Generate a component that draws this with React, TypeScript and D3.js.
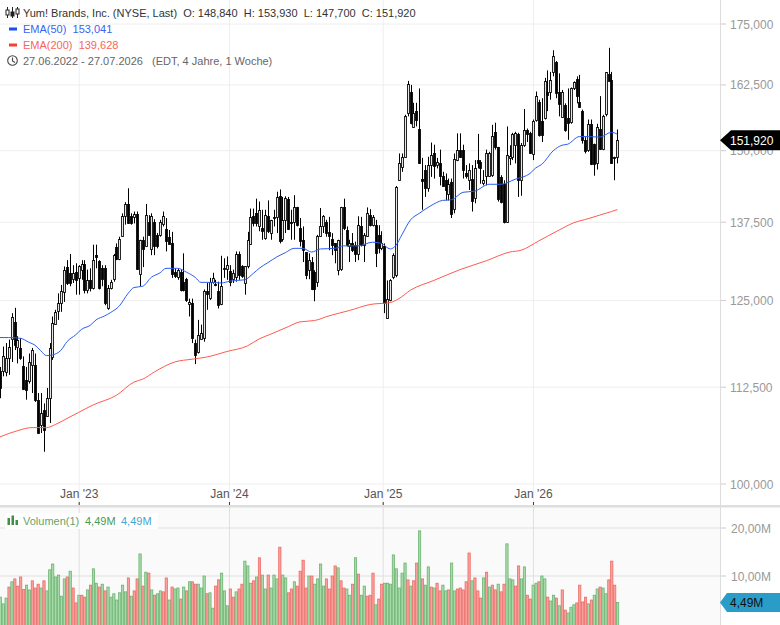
import * as d3 from "d3";

const width = 780;
const height = 625;

// weekly candles
const opens = [
  114.7,114.7,114.7,116.6,119.2,121.8,118.2,118.0,115.4,
  113.5,113.3,115.6,115.6,110.8,107.4,109.4,108.6,111.0,116.8,
  121.5,123.5,124.7,126.4,130.2,129.2,128.2,129.5,128.5,129.8,
  130.7,126.7,128.2,126.9,132.1,131.1,130.0,130.0,123.8,126.9,
  128.3,133.5,131.6,135.2,138.6,140.6,138.6,138.3,138.8,129.2,
  134.6,133.5,137.6,133.2,137.6,135.4,135.4,137.1,136.3,135.1,
  134.0,129.5,128.7,129.5,127.9,128.3,124.5,124.6,118.7,117.5,
  119.2,119.4,126.4,125.4,127.9,127.6,126.4,124.5,129.8,129.8,
  129.6,128.3,128.7,132.3,130.3,127.7,130.3,133.9,138.5,139.0,136.8,
  136.5,134.8,138.5,135.8,138.4,138.4,141.9,134.6,137.9,141.5,
  137.6,137.4,140.0,136.5,134.5,132.6,129.7,131.0,129.4,127.9,
  135.2,136.8,137.6,135.9,134.7,134.0,129.7,129.8,140.0,136.2,
  133.5,134.0,133.7,132.4,136.8,133.7,135.2,138.7,137.0,137.0,
  135.4,133.2,133.6,122.5,125.1,128.6,128.9,144.7,147.1,148.9,
  157.0,161.2,154.4,157.5,154.0,145.0,146.5,143.3,147.4,149.5,
  147.4,147.7,145.5,144.8,142.4,144.4,139.8,148.3,150.2,150.2,
  145.9,144.7,145.0,141.5,148.3,148.0,144.1,145.3,145.4,145.6,
  153.4,150.7,145.3,144.1,137.6,148.6,148.9,151.0,153.1,144.7,
  151.0,153.8,153.2,149.4,155.6,159.2,155.6,156.1,161.2,161.2,
  165.0,167.1,161.2,156.4,158.6,156.1,155.2,161.8,163.6,159.2,
  157.5,151.9,150.1,155.0,151.3,147.7,154.1,150.4,156.7,164.7,
  163.5,148.9,148.84,
];
const highs = [
  115.3,118.2,118.7,119.2,123.1,123.9,119.7,119.4,116.8,
  115.3,117.2,118.0,117.2,111.7,111.7,110.3,112.4,118.7,122.6,
  123.6,126.1,127.4,130.3,131.3,132.3,130.5,130.8,130.5,131.3,
  131.3,129.8,130.0,133.8,133.8,131.3,130.5,130.5,127.4,128.2,
  132.3,134.0,135.1,139.0,140.9,143.3,139.0,139.3,139.3,134.6,
  135.1,140.6,138.7,139.0,138.0,135.7,137.9,139.3,138.2,136.2,
  135.9,130.0,130.0,129.8,132.4,128.5,125.3,125.3,119.2,122.1,
  121.4,126.7,127.7,128.5,129.3,128.2,127.9,132.0,131.6,131.9,
  130.5,129.8,132.7,132.7,130.5,130.3,135.9,139.8,139.8,141.5,141.0,
  139.6,139.6,141.2,137.9,139.6,142.7,143.1,141.8,141.9,141.8,
  139.6,142.1,140.1,138.2,136.8,132.6,132.4,131.8,129.7,135.4,
  139.9,138.7,137.9,138.4,135.7,134.0,134.6,140.1,141.5,136.8,
  134.6,135.7,134.3,138.5,138.4,135.7,140.0,139.7,138.7,137.9,
  137.0,136.0,134.0,128.1,128.3,132.4,143.7,149.5,149.5,156.7,
  163.3,162.5,159.0,159.0,161.8,148.7,147.4,148.9,151.5,151.1,
  148.7,150.2,146.2,145.9,145.0,145.0,149.5,153.2,153.2,151.1,
  147.4,147.7,147.4,148.3,153.1,148.3,146.5,150.2,149.8,154.8,
  155.2,150.7,145.6,144.7,154.5,151.0,153.3,153.5,153.3,151.4,
  157.8,154.1,153.5,155.8,161.2,159.6,159.9,163.9,165.4,165.1,
  169.5,167.3,164.8,161.5,158.9,161.8,162.0,163.2,164.2,164.5,
  157.7,152.5,155.8,155.8,151.3,155.0,160.3,156.7,165.0,170.0,
  165.1,148.9,153.93,
];
const lows = [
  111.0,114.0,114.0,114.2,116.0,117.7,115.8,116.3,112.1,
  110.8,113.0,111.7,110.5,106.4,106.4,104.0,108.6,107.7,116.3,
  121.4,122.1,123.3,124.8,127.4,127.2,127.7,125.9,125.9,128.2,
  126.1,126.1,126.4,126.7,130.0,126.7,127.2,124.3,123.6,126.7,
  127.9,131.3,131.3,135.1,137.1,137.3,137.1,137.3,129.8,127.2,
  130.2,133.5,135.4,132.1,132.1,133.2,135.1,136.8,132.7,134.0,
  128.5,128.5,128.2,126.4,126.4,124.8,122.6,118.7,115.7,117.2,
  119.2,118.9,123.6,125.1,127.6,127.2,123.8,124.3,128.5,128.2,
  127.2,127.7,127.9,128.2,128.5,125.9,130.0,133.8,136.8,136.8,136.0,
  134.6,134.6,135.7,134.6,136.8,135.7,134.0,134.3,135.7,136.2,
  134.6,134.6,136.8,133.5,131.0,128.3,128.3,126.6,124.9,127.1,
  135.2,135.7,135.1,132.9,132.1,130.8,128.9,129.6,136.2,133.5,
  131.0,132.6,131.0,131.3,133.5,131.0,135.1,136.8,136.8,130.2,
  132.4,132.9,123.1,122.3,124.9,128.3,128.6,144.7,146.2,148.7,
  156.4,154.9,154.2,154.5,147.6,139.6,141.8,142.7,145.3,145.0,
  146.8,143.8,143.8,141.2,141.2,138.2,139.0,148.1,148.7,145.0,
  145.0,143.0,139.3,140.7,146.8,144.1,143.8,143.8,145.3,145.3,
  150.2,141.0,140.7,137.3,137.4,147.4,148.3,147.7,141.8,142.0,
  150.7,151.6,149.4,148.3,155.4,152.6,151.6,155.8,157.4,159.6,
  164.2,159.9,156.4,156.1,153.5,152.0,155.0,161.5,158.9,158.0,
  151.3,149.5,149.8,147.4,145.5,146.6,150.2,150.1,156.4,163.2,
  147.7,144.7,147.7,
];
const closes = [
  112.4,116.8,116.6,118.2,122.5,118.4,119.2,116.6,112.2,
  112.1,116.0,117.7,110.8,106.4,109.0,106.8,111.0,118.0,121.7,
  123.3,124.7,126.5,129.8,127.7,127.6,129.2,128.2,130.4,130.7,
  126.7,128.2,126.9,131.3,131.8,126.9,128.2,124.6,126.9,127.9,
  132.1,131.6,134.8,138.5,140.6,137.4,137.4,138.8,129.8,134.6,
  133.2,138.7,135.4,138.6,133.6,133.6,137.6,138.5,134.3,134.0,
  129.0,128.8,129.8,126.7,126.7,125.0,124.8,119.4,117.0,119.9,
  120.1,126.4,125.9,127.9,128.5,127.4,124.3,127.2,130.0,130.5,
  127.9,129.2,132.3,129.0,128.7,130.3,134.5,138.3,137.4,137.4,139.5,
  136.0,138.7,136.0,137.9,138.3,141.8,134.3,137.8,141.7,136.5,
  137.5,140.0,137.0,134.3,132.9,128.9,131.3,126.8,126.8,135.2,
  136.8,138.5,135.7,135.2,133.7,132.9,134.6,140.0,136.5,133.7,
  134.0,132.9,132.3,137.1,133.7,135.4,139.1,137.0,138.4,132.4,
  133.2,134.0,124.6,125.3,128.2,132.1,143.5,147.8,148.9,156.5,
  162.7,155.2,157.0,155.7,147.8,144.7,143.3,147.4,149.2,147.2,
  148.0,145.3,143.8,143.1,144.1,138.9,148.5,150.2,148.9,146.6,
  145.3,146.5,141.2,146.8,147.7,147.0,144.7,149.5,149.5,152.7,
  150.7,141.4,140.9,137.6,149.2,149.0,153.1,153.2,144.7,151.0,
  153.8,153.1,149.6,155.6,160.3,152.9,152.9,163.2,160.6,163.5,
  168.3,160.9,158.9,161.2,153.8,155.2,161.8,163.0,160.2,158.3,
  152.0,149.8,155.0,147.7,147.7,154.3,150.4,156.5,165.0,163.4,
  147.8,148.8,151.92,
];

// volume in millions, and whether the bar is green (g) or red (r)
const volumes = [
  5.6,4.2,5.4,7.7,8.8,9.4,7.9,9.8,7.2,8.1,
  7.1,9.0,7.5,8.3,7.5,9.0,6.9,11.3,12.5,9.8,
  10.2,5.8,9.4,9.8,11.0,7.5,4.4,6.0,6.0,5.6,
  7.1,8.1,11.5,8.5,7.7,8.3,6.9,7.7,5.6,6.3,
  5.0,6.5,8.1,6.7,9.6,5.8,6.9,9.4,14.6,7.9,
  10.8,10.6,7.1,6.0,6.3,6.9,6.7,9.6,5.0,7.7,
  7.3,7.5,5.2,7.7,6.9,8.8,8.8,8.3,8.3,7.5,
  10.0,6.3,6.5,3.3,7.9,9.2,10.6,6.9,3.8,7.3,
  5.6,6.7,7.3,8.3,13.1,12.1,8.5,9.0,9.8,13.8,
  10.2,7.3,10.2,7.5,10.2,9.4,16.0,10.2,9.6,6.5,
  7.3,8.8,7.9,11.0,13.3,7.5,10.0,10.0,8.3,9.4,
  12.5,7.9,9.4,7.3,10.0,12.1,11.7,9.0,7.5,7.3,
  6.0,8.3,13.8,10.4,6.0,7.9,5.8,6.0,10.6,4.0,
  5.2,8.3,8.5,8.5,
  8.3,14.4,11.5,7.5,10.6,12.7,9.2,7.9,9.0,12.7,
  19.4,9.4,8.1,11.9,7.7,7.5,8.5,6.9,8.1,6.9,
  7.1,12.7,6.9,7.3,7.5,7.1,8.8,14.8,9.0,9.6,
  6.9,5.4,9.6,10.8,7.7,8.1,7.1,8.3,6.7,8.3,
  16.7,9.4,9.2,7.9,12.1,9.4,11.9,6.0,5.2,8.1,
  8.5,8.8,10.0,9.4,5.6,4.8,6.0,5.4,3.8,7.1,
  2.9,2.3,3.5,4.0,4.4,8.1,4.6,5.6,4.2,5.0,
  6.0,7.3,7.7,7.5,6.3,9.2,13.1,8.1,4.49,
];
const volumeDirs = (
  "gggrgrrrrg" + "grrrgrgggg" + "gggrgrrgrr" + "grggrgrggg" + "ggggrgrrgr" +
  "grgrggrrgr" + "ggrgrgrrgg" + "grggrrgggr" + "rgrrgggrgr" + "ggrgggrggr" +
  "rgrrrrgrgg" + "ggrrrrgrrg" + "grgrggrrrg" + "rrgg" +
  "ggggggrgrr" + "grggrgrrgg" + "rggrrrrrgr" + "rrgrgrrgrr" + "gggrrggrrg" +
  "grggrggrgr" + "rgggrrrrgr" + "ggrggrrrg"
).split("");

// moving averages, sampled along the line: week number + value
const ema50Weeks = [
  0,3,7,10,12,14,16,18,21,23,26,28,31,33,36,38,41,44,46,49,52,55,57,61,64,67,69,73,76,79,84,87,
  89,92,95,98,101,104,107,110,115,118,123,128,131,134,136,138,141,144,148,152,155,159,163,168,
  172,177,182,184,186,190,193,195,199,202,206,210,212,
];
const ema50Values = [
  119.5,119.5,119.4,118.8,118.4,117.6,116.9,117.0,117.7,118.9,119.9,120.7,121.3,122.1,122.7,123.2,
  124.2,126.1,127.0,127.2,128.6,129.3,130.0,130.0,129.4,128.6,127.8,127.8,127.7,128.0,128.2,129.2,
  130.0,130.9,131.8,132.5,133.2,133.2,132.6,133.1,133.2,133.6,133.6,134.2,134.0,133.1,133.7,135.4,
  137.9,139.0,140.3,141.2,141.3,142.6,142.8,144.0,
  144.0,144.9,145.9,146.9,147.5,150.0,151.0,151.2,152.6,152.6,152.5,153.4,153.04,
];
const ema200Weeks = [
  0,6,11,16,19,23,27,32,40,46,49,53,60,66,71,78,85,89,93,99,103,108,113,120,127,134,137,141,149,158,
  167,175,179,185,192,197,202,206,210,212,
];
const ema200Values = [
  105.9,106.7,107.1,107.1,107.5,108.3,109.1,110.1,111.4,113.2,113.6,114.6,116.0,116.4,116.7,117.5,
  118.3,119.3,120.0,121.1,121.8,122.0,122.7,123.5,124.4,124.7,125.3,126.6,128.1,129.8,
  131.2,132.6,132.9,134.4,136.2,137.4,138.1,138.7,139.3,139.63,
];

const priceTicks = [100, 112.5, 125, 137.5, 150, 162.5, 175];
const volumeTicks = [10, 20];
const timeLabels = ["Jan '23", "Jan '24", "Jan '25", "Jan '26"];
const timeWeeks = [27.2, 78.8, 131.6, 183.2];

const lastPrice = 151.92;
const lastVolume = 4.49;

const font = "'Liberation Sans', Arial, sans-serif";
const fmtPrice = (v: number) => v.toFixed(3).replace(".", ",");
const fmtVol = (v: number) => v.toFixed(2).replace(".", ",") + "M";

export default function App() {
  const x = d3.scaleLinear().domain([0, 212]).range([0, 617.3]);
  const y = d3.scaleLog().domain([100, 175]).range([484, 24]);
  const yVol = d3.scaleLinear().domain([0, 20]).range([624, 528]);

  const ema50Path =
    d3
      .line<number>()
      .curve(d3.curveMonotoneX)
      .x((d) => x(d))
      .y((_, i) => y(ema50Values[i]))(ema50Weeks) ?? "";
  const ema200Path =
    d3
      .line<number>()
      .curve(d3.curveMonotoneX)
      .x((d) => x(d))
      .y((_, i) => y(ema200Values[i]))(ema200Weeks) ?? "";

  const priceY = y(lastPrice);
  const volY = yVol(lastVolume);

  return (
    <svg
      width={width}
      height={height}
      style={{ position: "absolute", left: 0, top: 0, display: "block", background: "#fff" }}
      fontFamily={font}
    >
      {/* volume pane background */}
      <rect x={0} y={507} width={720} height={118} fill="#fafafa" />

      {/* price grid */}
      {priceTicks.map((t) => (
        <line key={t} x1={0} x2={720} y1={y(t)} y2={y(t)} stroke="#eeeeee" />
      ))}
      {timeWeeks.map((w) => (
        <line key={w} x1={x(w)} x2={x(w)} y1={0} y2={505} stroke="#eeeeee" />
      ))}

      {/* volume grid */}
      {volumeTicks.map((t) => (
        <line key={t} x1={0} x2={720} y1={yVol(t)} y2={yVol(t)} stroke="#e0e0e0" />
      ))}
      {timeWeeks.map((w) => (
        <line key={w} x1={x(w)} x2={x(w)} y1={507} y2={625} stroke="#e0e0e0" />
      ))}

      {/* volume bars */}
      {volumes.map((v, i) => {
        const up = volumeDirs[i] === "g";
        return (
          <rect
            key={i}
            x={x(i) - 0.85}
            y={yVol(v)}
            width={2.3}
            height={Math.max(0, 626 - yVol(v))}
            fill={up ? "#a6dba8" : "#fa9f9b"}
            stroke={up ? "#62ad69" : "#ea645e"}
            strokeWidth={0.7}
          />
        );
      })}

      {/* candles */}
      {closes.map((c, i) => {
        const cx = Math.round(x(i));
        const top = y(Math.max(opens[i], c));
        const bottom = y(Math.min(opens[i], c));
        const up = c >= opens[i];
        return (
          <g key={i}>
            <line
              x1={cx + 0.5}
              x2={cx + 0.5}
              y1={y(highs[i])}
              y2={y(lows[i])}
              stroke="#000"
            />
            <rect
              x={cx - 0.4}
              y={Math.round(top) + 0.5}
              width={1.8}
              height={Math.max(1, Math.round(bottom - top))}
              fill={up ? "#fff" : "#000"}
              stroke="#000"
              strokeWidth={0.9}
            />
          </g>
        );
      })}

      {/* EMAs */}
      <path d={ema200Path} fill="none" stroke="#ff5a4f" strokeWidth={1} />
      <path d={ema50Path} fill="none" stroke="#2a5cf0" strokeWidth={1} />

      {/* pane separator and axis lines */}
      <rect x={0} y={505} width={780} height={2.5} fill="#dedede" />
      <line x1={720.5} x2={720.5} y1={0} y2={625} stroke="#dddddd" />

      {/* time axis */}
      {timeWeeks.map((w, i) => (
        <g key={w}>
          <line x1={x(w)} x2={x(w)} y1={502} y2={505} stroke="#333" />
          <text x={x(w)} y={498} textAnchor="middle" fontSize={12} fill="#555">
            {timeLabels[i]}
          </text>
        </g>
      ))}

      {/* price axis */}
      {priceTicks.map((t) => (
        <g key={t}>
          <line x1={721} x2={726} y1={y(t)} y2={y(t)} stroke="#cccccc" />
          <text x={730} y={y(t) + 4.5} fontSize={12} fill="#999">
            {fmtPrice(t)}
          </text>
        </g>
      ))}

      {/* volume axis */}
      {volumeTicks.map((t) => (
        <g key={t}>
          <line x1={721} x2={726} y1={yVol(t)} y2={yVol(t)} stroke="#cccccc" />
          <text x={731} y={yVol(t) + 4.5} fontSize={12} fill="#999">
            {fmtVol(t)}
          </text>
        </g>
      ))}

      {/* last price tag */}
      <path
        d={`M720,${priceY} L731,${priceY - 10} H780 V${priceY + 10} H731 Z`}
        fill="#000"
      />
      <text x={730} y={priceY + 4.5} fontSize={12} fill="#fff">
        {fmtPrice(lastPrice)}
      </text>

      {/* last volume tag */}
      <path
        d={`M720,${volY} L727,${volY - 9.5} H780 V${volY + 9.5} H727 Z`}
        fill="#2a9cc8"
      />
      <text x={730} y={volY + 4.5} fontSize={12} fill="#111">
        {fmtVol(lastVolume)}
      </text>

      {/* header legend */}
      <g stroke="#222" fill="none">
        <line x1={7.5} x2={7.5} y1={7} y2={18} />
        <rect x={6} y={10} width={3} height={5} fill="#fff" />
        <line x1={12.5} x2={12.5} y1={7} y2={18} />
        <rect x={11} y={12} width={3} height={4} fill="#222" />
        <line x1={17.5} x2={17.5} y1={7} y2={18} />
        <rect x={16} y={9} width={3} height={5} fill="#fff" />
      </g>
      <text x={23} y={17} fontSize={11} fill="#333" xmlSpace="preserve">
        {"Yum! Brands, Inc. (NYSE, Last)  O: 148,840  H: 153,930  L: 147,700  C: 151,920"}
      </text>

      <rect x={9} y={27.5} width={8} height={3} fill="#1a4df5" />
      <text x={23} y={33} fontSize={11} fill="#3b62f0" xmlSpace="preserve">
        {"EMA(50)  153,041"}
      </text>

      <rect x={9} y={43.5} width={8} height={3} fill="#f5402f" />
      <text x={23} y={49} fontSize={11} fill="#f4665c" xmlSpace="preserve">
        {"EMA(200)  139,628"}
      </text>

      <circle cx={12.5} cy={60.5} r={4.8} fill="none" stroke="#444" strokeWidth={1.1} />
      <path d="M12.5,57.5 V61 L15,62.5" fill="none" stroke="#444" strokeWidth={1.1} />
      <text x={23} y={65} fontSize={11} fill="#666" xmlSpace="preserve">
        {"27.06.2022 - 27.07.2026   (EDT, 4 Jahre, 1 Woche)"}
      </text>

      {/* volume legend */}
      <rect x={5} y={513} width={153} height={16} fill="#fff" fillOpacity={0.85} />
      <rect x={7.5} y={518} width={2.5} height={7} fill="#3f8f45" />
      <rect x={11.5} y={515.5} width={2.5} height={9.5} fill="#3f8f45" />
      <rect x={15.5} y={520} width={2.5} height={5} fill="#3f8f45" />
      <text x={23} y={525} fontSize={11} fill="#63a56b">
        Volumen(1)
      </text>
      <text x={85} y={525} fontSize={11} fill="#4a9a55">
        {fmtVol(lastVolume)}
      </text>
      <text x={121} y={525} fontSize={11} fill="#45a5d0">
        {fmtVol(lastVolume)}
      </text>
    </svg>
  );
}
